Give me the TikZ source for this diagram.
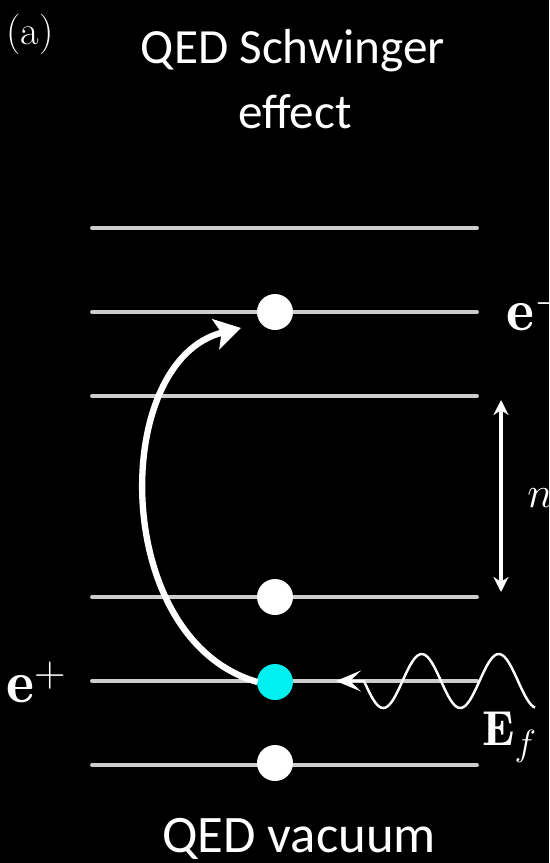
\documentclass[tikz,border=0pt]{standalone}
\usepackage{fontspec}
\newfontfamily\calib{Carlito}
\usetikzlibrary{arrows.meta}
\definecolor{levelgray}{RGB}{205,205,205}
\definecolor{holecyan}{RGB}{0,240,240}
\begin{document}
\begin{tikzpicture}[x=0.02cm,y=-0.02cm,
  level/.style={draw=levelgray,line width=2.2pt,line cap=round},
  dot/.style={circle,fill=white,inner sep=0pt,minimum size=0.72cm},
  hole/.style={dot,fill=holecyan},
  title/.style={text=white,font=\calib\fontsize{28}{32}\selectfont,anchor=base,inner sep=0pt},
  lbl/.style={text=white,inner sep=0pt},
  jump/.style={draw=white,line width=3.6pt,-{Stealth[length=0.52cm,width=0.62cm,inset=0.12cm]}},
  gap/.style={draw=white,line width=1.8pt,{Stealth[length=0.3cm,width=0.3cm]}-{Stealth[length=0.3cm,width=0.3cm]}},
  wave/.style={draw=white,line width=1.4pt,{Stealth[length=0.5cm,width=0.42cm,inset=0.22cm]}-}]
\fill[black] (0,0) rectangle (549,863);
\clip (0,0) rectangle (549,863);
\useasboundingbox (0,0) rectangle (549,863);
% energy levels
\foreach \yy in {228,312,396,597,681,765}
  \draw[level] (92,\yy) -- (477,\yy);
% particles
\node[dot] (eminus) at (275,312) {};
\node[dot] (upper) at (275,597) {};
\node[hole] (eplus) at (275,682) {};
\node[dot] (lower) at (275,763) {};
% texts
\node[lbl,anchor=base west,font=\fontsize{23}{28}\selectfont] (tag) at (6,44) {(a)};
\node[title] (t1) at (293,63) {QED Schwinger};
\node[title] (t2) at (295,128) {effect};
\node[title,font=\calib\fontsize{30}{34}\selectfont] (vac) at (299,852) {QED vacuum};
\node[lbl,anchor=base west,font=\fontsize{34}{40}\selectfont] (elab) at (506,330) {$\mathbf{e}^-$};
\node[lbl,anchor=base west,font=\fontsize{34}{40}\selectfont] (plab) at (6,702) {$\mathbf{e}^+$};
\node[lbl,anchor=base west,font=\fontsize{27}{30}\selectfont] (nlab) at (527,507) {$n$};
\node[lbl,anchor=base west,font=\fontsize{28}{30}\selectfont] (flab) at (482,745) {$\mathbf{E}_f$};
% pair-creation arrow
\draw[jump] ([xshift=-0.35cm]eplus.center) .. controls (110,640) and (110,360) .. ([xshift=-0.68cm,yshift=-0.32cm]eminus.center);
% level spacing arrow
\coordinate (gtop) at (501,400);
\coordinate (gbot) at (501,592);
\draw[gap] (gtop) -- (gbot);
% incoming field
\coordinate (wtip) at (336,681);
\draw[wave] (wtip) -- (364,681) -- plot[domain=364:535,samples=90,smooth] (\x,{681+27*sin((\x-364)/77*360)});
\end{tikzpicture}
\end{document}
